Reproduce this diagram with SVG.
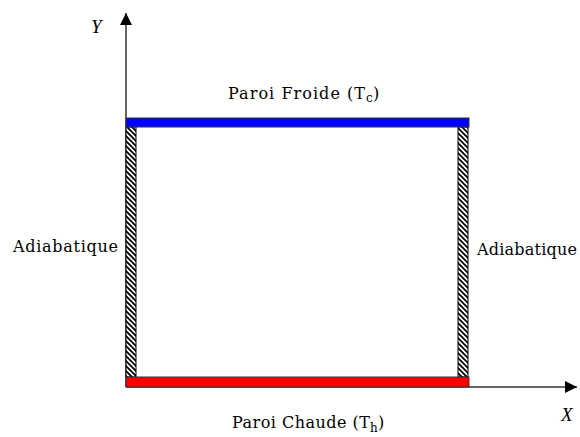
<svg xmlns="http://www.w3.org/2000/svg" width="580" height="437" viewBox="0 0 580 437">
<style>
.lbl{font-family:"DejaVu Serif","Liberation Serif",serif;font-size:16px;fill:#000}
.sub{font-family:"DejaVu Serif","Liberation Serif",serif;font-size:12px;fill:#000}
.ax{font-family:"Liberation Serif",serif;font-style:italic;font-size:19px;fill:#000}
.axis{stroke:#333;stroke-width:1.5;fill:none}
.wall{fill:url(#hatch);stroke:#000;stroke-width:1}
</style>
<defs>
<pattern id="hatch" patternUnits="userSpaceOnUse" width="5" height="5">
<rect width="5" height="5" fill="#fff"/>
<path d="M0,0 L5,5 M-1,4 L1,6 M4,-1 L6,1" stroke="#000" stroke-width="1.8"/>
</pattern>
<marker id="arr" markerUnits="userSpaceOnUse" markerWidth="14" markerHeight="12" refX="12" refY="6" orient="auto">
<path d="M0,0 L12,6 L0,12 Z" fill="#000"/>
</marker>
</defs>
<rect width="580" height="437" fill="#fff"/>
<g id="connectors">
<line class="axis" x1="126" y1="387" x2="126" y2="13" marker-end="url(#arr)"/>
<line class="axis" x1="126" y1="387" x2="577" y2="387" marker-end="url(#arr)"/>
</g>
<g id="wall-left">
<rect class="wall" x="126" y="127" width="10" height="250"/>
<text class="lbl" x="13" y="252" textLength="105" lengthAdjust="spacing">Adiabatique</text>
</g>
<g id="wall-right">
<rect class="wall" x="458" y="127" width="10" height="250"/>
<text class="lbl" x="477" y="255" textLength="100" lengthAdjust="spacing">Adiabatique</text>
</g>
<g id="wall-cold">
<rect x="126" y="118" width="343" height="9" fill="#0000ff" stroke="#333" stroke-width="1"/>
<text class="lbl" x="228" y="99" textLength="137" lengthAdjust="spacing">Paroi Froide (T</text>
<text class="sub" x="366" y="102">c</text>
<text class="lbl" x="373" y="99">)</text>
</g>
<g id="wall-hot">
<rect x="126" y="377" width="343" height="10" fill="#ff0000" stroke="#333" stroke-width="1"/>
<text class="lbl" x="232" y="428" textLength="138" lengthAdjust="spacing">Paroi Chaude (T</text>
<text class="sub" x="370" y="432">h</text>
<text class="lbl" x="378" y="428">)</text>
</g>
<g id="axis-labels">
<text class="ax" x="91" y="33">Y</text>
<text class="ax" x="561" y="421">X</text>
</g>
</svg>
